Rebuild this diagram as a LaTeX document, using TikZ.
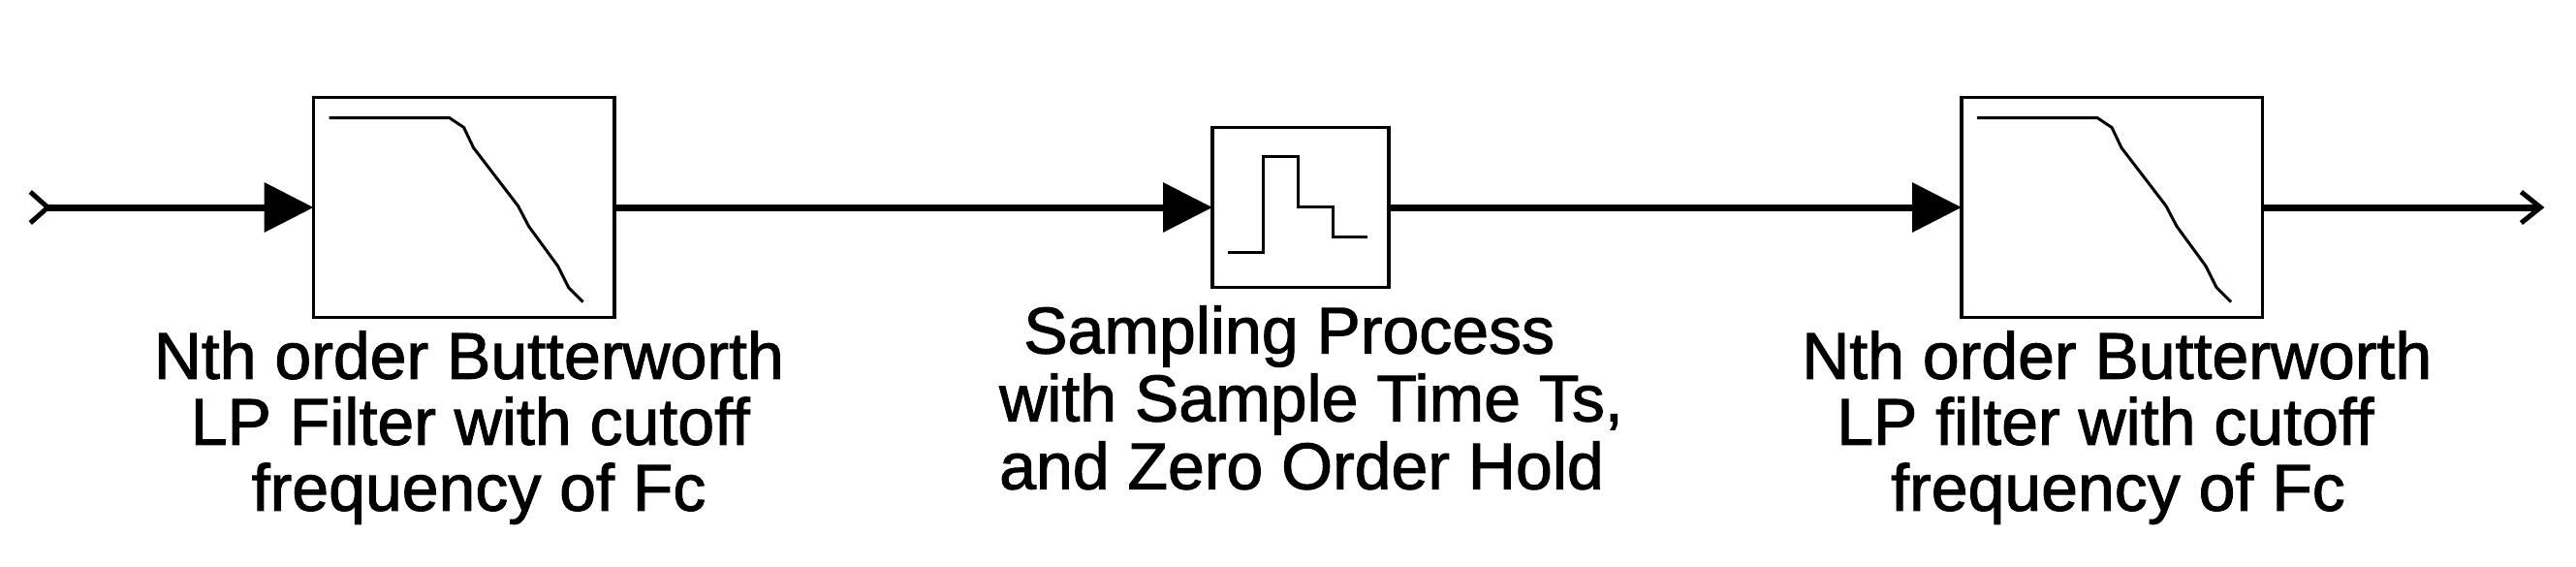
\documentclass[tikz,border=0pt]{standalone}
\usepackage{fontspec}
\setmainfont[FakeBold=1.5]{Liberation Sans}
\usepackage{tikz}
\usetikzlibrary{positioning}
\usetikzlibrary{arrows.meta}

\tikzset{
    filterbox/.style={rectangle,draw=black,line width=1.8pt,outer sep=0pt,minimum width=155.2pt,minimum height=113.5pt},
    samplebox/.style={rectangle,draw=black,line width=1.8pt,outer sep=0pt,minimum width=91pt,minimum height=82.5pt},
    caption/.style={align=left,inner sep=0pt,font=\fontsize{34}{34}\selectfont},
    signal/.style={line width=3.5pt,-{Triangle[length=25.5pt,width=25pt]}},
    response/.style={line width=1.5pt,x=0.5pt,y=0.5pt}
}

\begin{document}
\begin{tikzpicture}
\useasboundingbox (0,0) rectangle (1329pt,-292pt);

\node[filterbox](lpa) at (239.4pt,-107pt){};
\node[samplebox,right = 308.5pt of lpa](sampler){};
\node[filterbox,right = 295.5pt of sampler](lpb){};

\coordinate[left = 147.4pt of lpa](sigin);
\coordinate[right = 145.5pt of lpb](sigout);

\draw[response,shift={(lpa.north west)}] (16,-21) -- (140,-21) -- (155,-31) -- (165,-52) -- (211,-112) -- (222,-133) -- (252,-174) -- (263,-196) -- (278,-211);
\draw[response,shift={(lpb.north west)}] (16,-21) -- (140,-21) -- (155,-31) -- (165,-52) -- (211,-112) -- (222,-133) -- (252,-174) -- (263,-196) -- (278,-211);
\draw[response,shift={(sampler.north west)}] (16,-129) -- (52,-129) -- (52,-30) -- (88,-30) -- (88,-82) -- (124,-82) -- (124,-113) -- (160,-113);

\draw[line width=3.5pt,{Straight Barb[reversed,length=9pt,width=16pt,line width=2.5pt]}-{Triangle[length=25.5pt,width=25pt]}] (sigin) -- (lpa);
\draw[signal] (lpa) -- (sampler);
\draw[signal] (sampler) -- (lpb);
\draw[line width=3.5pt,-{Straight Barb[length=10pt,width=16pt,line width=2.5pt]}] (lpb) -- (sigout);

\node[caption,below = 6.8pt of lpa,xshift=2.5pt](lpatext){Nth order Butterworth\\\hspace*{19pt}LP Filter with cutoff\\\hspace*{50.5pt}frequency of Fc};
\node[caption,below = 9.2pt of sampler,xshift=5.5pt](samplertext){\hspace*{12.5pt}Sampling Process\\[1pt]with Sample Time Ts,\\[1pt]and Zero Order Hold};
\node[caption,below = 6.8pt of lpb,xshift=2.5pt](lpbtext){Nth order Butterworth\\\hspace*{18pt}LP filter with cutoff\\\hspace*{46pt}frequency of Fc};

\end{tikzpicture}
\end{document}
